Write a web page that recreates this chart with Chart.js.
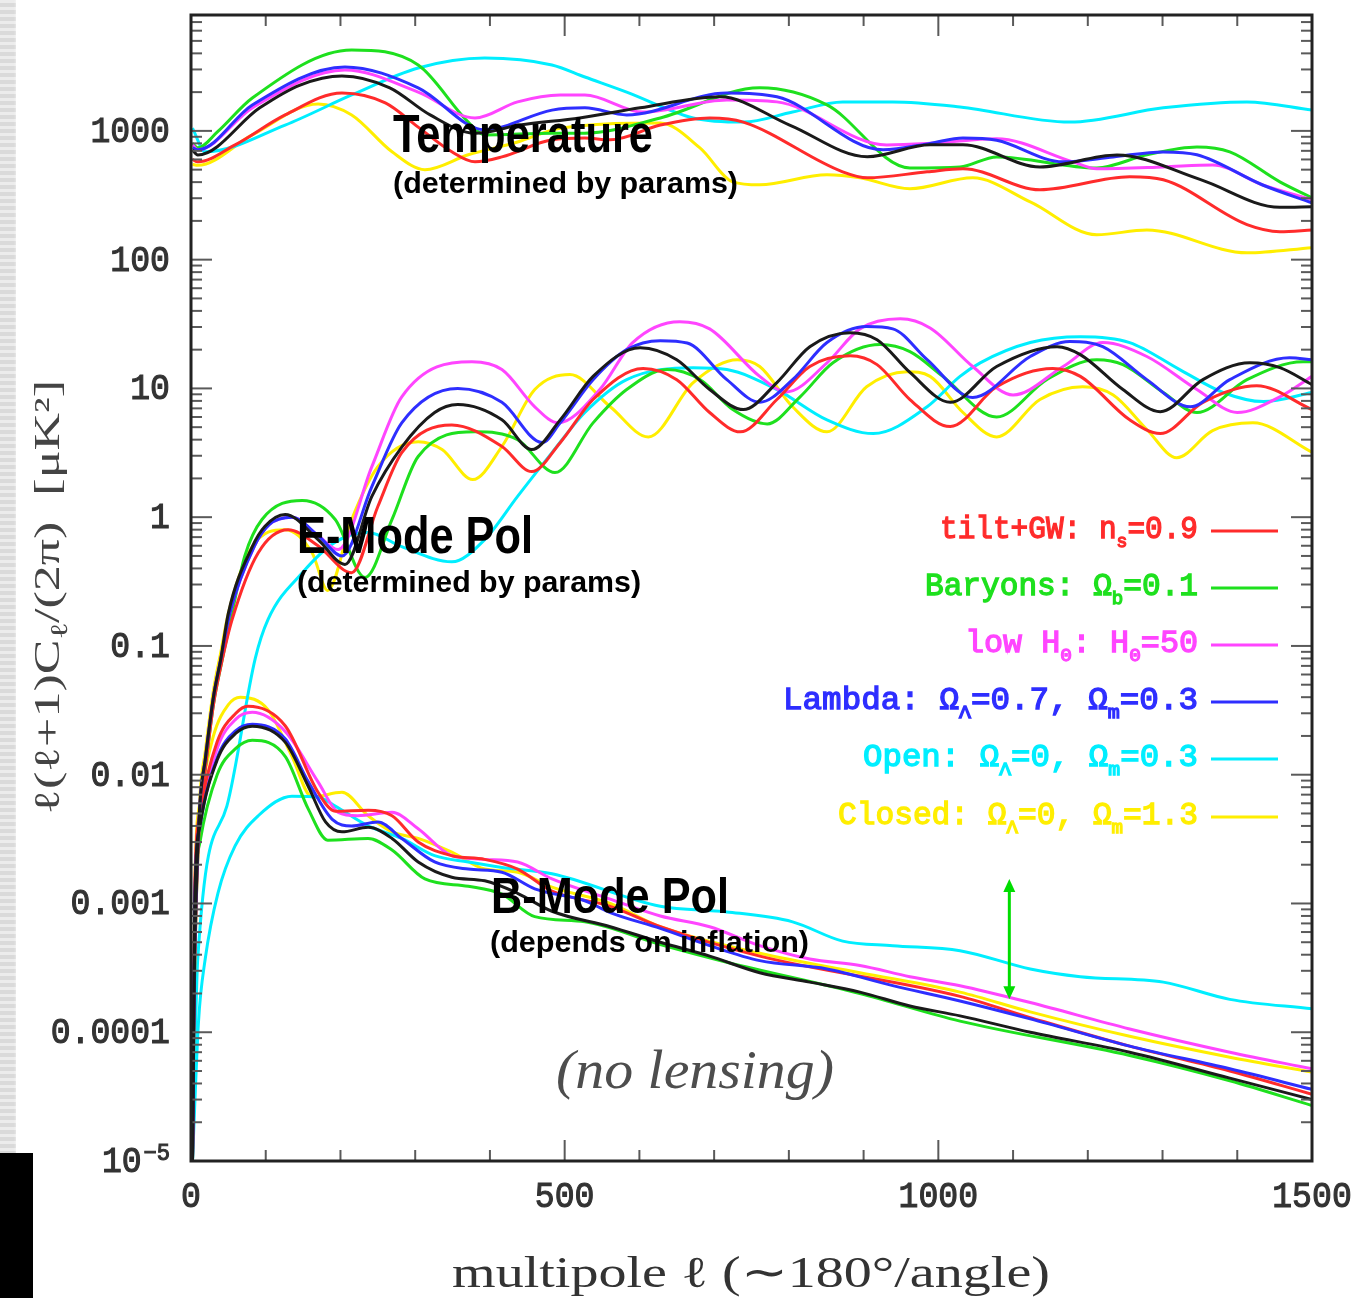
<!DOCTYPE html>
<html>
<head>
<meta charset="utf-8">
<title>CMB power spectra</title>
<script src="https://cdn.jsdelivr.net/npm/chart.js@4.4.1/dist/chart.umd.min.js"></script>
<style>
  html, body { margin: 0; padding: 0; background: #fff; }
  canvas { display: block; }
</style>
</head>
<body>
<canvas id="spectra" width="1370" height="1298"></canvas>
<script>
// [multipole l, l(l+1)C_l/2pi in uK^2]

// Temperature
const TT_BLACK = [[2,710],[9,650],[92,1510],[146,2270],[202,2670],[266,2160],[320,1330],[380,960],[440,1110],[520,1260],[601,1510],[708,1840],[801,1110],[905,630],[989,780],[1033,780],[1136,525],[1239,650],[1350,420],[1457,255],[1500,258]];
const TT_RED = [[2,600],[9,575],[59,778],[126,1330],[202,1970],[260,1650],[304,1070],[349,688],[380,575],[416,628],[483,852],[527,880],[561,852],[628,1110],[694,1260],[739,1170],[872,481],[905,432],[985,481],[1033,508],[1136,349],[1256,440],[1301,417],[1413,187],[1457,165],[1500,170]];
const TT_GREEN = [[2,800],[9,740],[36,990],[82,1800],[215,4250],[304,3250],[371,1170],[393,930],[483,960],[527,960],[628,1260],[761,2160],[851,1590],[962,516],[1029,525],[1078,628],[1212,516],[1279,652],[1346,750],[1390,687],[1457,402],[1500,302]];
const TT_MAGENTA = [[2,780],[9,713],[82,1510],[206,2970],[304,2000],[380,1260],[437,1680],[494,1900],[527,1900],[605,1400],[717,1740],[784,1680],[931,778],[989,800],[1078,868],[1180,575],[1212,508],[1301,525],[1367,544],[1434,380],[1500,292]];
const TT_BLUE = [[2,738],[9,713],[82,1590],[206,3140],[304,2160],[393,1020],[483,1450],[527,1510],[583,1330],[717,1970],[784,1840],[926,713],[989,800],[1033,880],[1078,845],[1167,575],[1234,628],[1301,687],[1346,652],[1434,380],[1500,276]];
const TT_CYAN = [[2,1050],[19,688],[126,1110],[215,1900],[304,3080],[393,3680],[483,3250],[527,2620],[583,2000],[672,1260],[739,1170],[805,1400],[872,1680],[939,1680],[1029,1535],[1176,1170],[1301,1510],[1413,1680],[1500,1450]];
const TT_YELLOW = [[2,550],[9,540],[82,930],[170,1620],[215,1330],[269,688],[313,500],[371,652],[437,820],[494,1050],[628,1150],[681,738],[725,402],[761,381],[851,456],[895,432],[962,355],[1046,432],[1123,281],[1212,156],[1279,170],[1413,113],[1500,124]];

// E-mode polarization
const EE_BLACK = [[2,1e-5],[4,2e-4],[7,0.0012],[12,0.006],[19,0.013],[30,0.04],[40,0.08],[50,0.18],[82,0.59],[99,0.85],[126,1.05],[170,0.67],[206,0.43],[242,1.45],[282,3.5],[326,6.5],[357,7.5],[416,5.7],[456,3.35],[494,5.7],[538,12.4],[601,20.7],[650,16.7],[694,9.8],[739,6.85],[784,11.1],[828,21.1],[882,27.1],[918,23.9],[962,13.3],[1016,7.8],[1078,14.8],[1159,21.1],[1190,18.3],[1247,9.8],[1297,6.6],[1354,11.7],[1417,15.8],[1457,14.5],[1500,10.7]];
const EE_RED = [[2,1e-5],[4,1.5e-4],[7,0.001],[12,0.005],[19,0.011],[30,0.035],[40,0.07],[55,0.16],[90,0.53],[130,0.8],[170,0.6],[215,0.37],[250,1.21],[282,3.17],[349,5.2],[416,3.54],[456,2.26],[494,3.79],[538,8.2],[605,14.3],[650,11.7],[694,6.5],[735,4.6],[784,8.2],[828,14.8],[882,17.9],[918,15.3],[962,8.2],[1016,5.05],[1078,10.3],[1153,14.3],[1190,12.4],[1256,5.7],[1297,4.46],[1354,7.8],[1426,10.5],[1500,6.85]];
const EE_GREEN = [[2,1e-5],[4,1.5e-4],[7,0.001],[12,0.005],[19,0.011],[30,0.035],[40,0.07],[55,0.18],[72,0.5],[95,0.96],[149,1.35],[193,0.96],[233,0.34],[269,0.96],[304,2.96],[380,4.6],[437,4.0],[487,2.22],[538,5.4],[583,9.8],[637,14.0],[681,11.7],[725,6.85],[771,5.3],[815,8.6],[859,15.8],[922,21.9],[962,19.3],[1006,12.4],[1078,6.0],[1145,11.7],[1212,16.7],[1247,15.3],[1301,9.3],[1346,6.5],[1413,11.7],[1488,16.1],[1500,16.1]];
const EE_MAGENTA = [[2,1e-5],[4,2e-4],[7,0.0012],[12,0.006],[19,0.013],[30,0.04],[40,0.08],[52,0.18],[85,0.6],[105,0.88],[135,1.0],[170,0.72],[197,0.56],[242,2.47],[282,8.6],[376,16.1],[416,14.0],[460,7.2],[491,5.4],[547,9.8],[591,22.7],[654,33.0],[694,29.0],[761,12.4],[797,9.4],[851,15.8],[895,29.0],[949,34.7],[989,29.5],[1046,14.8],[1100,8.9],[1167,14.8],[1220,22.7],[1279,17.7],[1346,9.8],[1400,6.5],[1457,8.6],[1500,12.4]];
const EE_BLUE = [[2,1e-5],[4,2e-4],[7,0.0012],[12,0.006],[19,0.013],[30,0.04],[40,0.08],[52,0.18],[85,0.6],[105,0.88],[135,1.0],[170,0.72],[202,0.5],[242,1.73],[282,5.4],[357,10.0],[416,7.8],[470,3.8],[494,5.4],[538,11.7],[583,20.0],[628,23.5],[664,22.5],[717,11.7],[761,7.8],[805,11.7],[851,22.7],[904,30.2],[939,29.0],[985,16.7],[1046,8.5],[1123,17.7],[1176,23.1],[1220,21.1],[1279,11.7],[1337,7.2],[1390,11.7],[1470,17.3],[1500,16.7]];
const EE_CYAN = [[2,1e-5],[9,3.7e-4],[48,0.0057],[86,0.08],[103,0.16],[149,0.37],[193,0.64],[237,0.76],[282,0.59],[349,0.45],[393,0.67],[437,1.45],[483,3.17],[527,6.5],[583,11.7],[672,14.5],[717,14.0],[784,9.8],[851,5.7],[913,4.46],[985,7.2],[1029,12.4],[1056,15.8],[1123,22.7],[1190,25.2],[1256,22.7],[1323,14.0],[1381,9.3],[1435,7.9],[1500,9.3]];
const EE_YELLOW = [[2,1e-5],[4,2.5e-4],[7,0.0015],[12,0.007],[19,0.015],[30,0.045],[40,0.09],[50,0.18],[82,0.59],[126,0.8],[162,0.53],[183,0.27],[215,0.96],[250,2.47],[304,3.86],[336,3.35],[377,1.96],[416,3.54],[460,9.8],[507,12.8],[561,7.2],[612,4.2],[672,11.1],[731,16.7],[761,14.8],[805,7.2],[851,4.6],[904,10.3],[958,13.5],[989,12.4],[1033,6.5],[1078,4.2],[1136,8.2],[1193,10.3],[1234,8.9],[1279,4.8],[1319,2.9],[1367,4.7],[1421,5.4],[1500,3.2]];

// B-mode polarization
const BB_BLACK = [[2,1e-5],[5,0.001],[12,0.004],[35,0.013],[60,0.021],[82,0.0238],[126,0.0179],[157,0.0081],[180,0.0043],[202,0.0036],[237,0.0039],[269,0.0032],[304,0.0021],[349,0.0016],[393,0.0015],[437,0.0012],[483,0.00087],[561,0.00066],[628,0.0005],[694,0.00039],[761,0.00029],[828,0.000245],[895,0.000205],[962,0.00016],[1029,0.000134],[1123,0.0001],[1256,7.0e-5],[1390,4.4e-5],[1500,3.0e-5]];
const BB_RED = [[2,1e-5],[5,0.0012],[12,0.005],[35,0.018],[60,0.03],[76,0.034],[126,0.024],[170,0.0073],[193,0.0052],[237,0.0053],[269,0.0048],[304,0.003],[349,0.00235],[393,0.0022],[437,0.00185],[483,0.00125],[561,0.00095],[628,0.00066],[761,0.00039],[1029,0.00019],[1123,0.00013],[1256,7.8e-5],[1390,5.0e-5],[1500,3.3e-5]];
const BB_GREEN = [[2,1e-5],[5,0.0008],[12,0.003],[35,0.01],[60,0.016],[82,0.0185],[126,0.0139],[157,0.0054],[183,0.0031],[237,0.0032],[269,0.0026],[313,0.00155],[371,0.00136],[416,0.00118],[460,0.00079],[527,0.00072],[628,0.00048],[717,0.00035],[895,0.0002],[1029,0.000122],[1256,6.6e-5],[1390,4.2e-5],[1500,2.7e-5]];
const BB_MAGENTA = [[2,1e-5],[5,0.0011],[12,0.0045],[35,0.016],[60,0.027],[82,0.0305],[126,0.0217],[170,0.0088],[197,0.0051],[223,0.0048],[269,0.0051],[304,0.0038],[349,0.00235],[393,0.0022],[437,0.0021],[483,0.00155],[561,0.00108],[628,0.0008],[694,0.00066],[761,0.00047],[828,0.00037],[895,0.00033],[962,0.00027],[1029,0.00023],[1123,0.00017],[1256,0.000106],[1390,7.0e-5],[1500,5.2e-5]];
const BB_BLUE = [[2,1e-5],[5,0.001],[12,0.004],[35,0.0135],[60,0.022],[82,0.0246],[126,0.019],[157,0.0088],[189,0.0045],[215,0.004],[250,0.0043],[282,0.0032],[326,0.0021],[371,0.00185],[416,0.00175],[460,0.0013],[527,0.00105],[561,0.00085],[628,0.00064],[694,0.00047],[761,0.00036],[851,0.00031],[939,0.00023],[1029,0.000175],[1123,0.000127],[1256,7.8e-5],[1390,5.2e-5],[1500,3.6e-5]];
const BB_CYAN = [[2,1e-5],[10,1.2e-4],[19,3.7e-4],[36,0.0012],[59,0.0028],[90,0.0048],[135,0.0068],[170,0.0067],[193,0.0057],[237,0.004],[282,0.0032],[326,0.00235],[371,0.0021],[416,0.0019],[483,0.0017],[628,0.00095],[717,0.00086],[805,0.00072],[872,0.00051],[939,0.00047],[1029,0.00043],[1123,0.00031],[1190,0.00027],[1301,0.000245],[1390,0.00018],[1500,0.000152]];
const BB_YELLOW = [[2,1e-5],[5,0.0013],[12,0.006],[30,0.02],[50,0.035],[66,0.04],[103,0.032],[135,0.0139],[162,0.0067],[202,0.0073],[237,0.0048],[269,0.0036],[304,0.0032],[349,0.0025],[393,0.00185],[437,0.00175],[483,0.00134],[561,0.001],[628,0.00066],[761,0.00041],[895,0.00029],[1029,0.000205],[1123,0.000144],[1256,9.3e-5],[1390,6.4e-5],[1500,4.9e-5]];

const X_TICK_VALUES = [0, 500, 1000, 1500];
const X_TICK_LABELS = ['0', '500', '1000', '1500'];
const Y_TICK_VALUES = [1000, 100, 10, 1, 0.1, 0.01, 0.001, 0.0001, 0.00001];
const Y_TICK_LABELS = ['1000', '100', '10', '1', '0.1', '0.01', '0.001', '0.0001', '10^−5'];

const LEGEND_MODELS = ['red', 'green', 'magenta', 'blue', 'cyan', 'yellow'];
const LEGEND_LABELS = [
  'tilt+GW: n_s=0.9',
  'Baryons: Ω_b=0.1',
  'low H_0: H_0=50',
  'Lambda: Ω_Λ=0.7, Ω_m=0.3',
  'Open: Ω_Λ=0, Ω_m=0.3',
  'Closed: Ω_Λ=0, Ω_m=1.3'
];

// arrow showing the open-model B-mode offset
const GAP_ARROW = { ell: 1095, low: 1.8e-4, high: 1.55e-3 };

const COLORS = {
  black: '#1a1a1a',
  red: '#ff2b2b',
  green: '#1ee01e',
  magenta: '#ff45ff',
  blue: '#2e2eff',
  cyan: '#00eeff',
  yellow: '#ffee00'
};

const curves = [
  ['black', TT_BLACK], ['black', EE_BLACK], ['black', BB_BLACK],
  ['blue', TT_BLUE], ['blue', EE_BLUE], ['blue', BB_BLUE],
  ['red', TT_RED], ['red', EE_RED], ['red', BB_RED],
  ['magenta', TT_MAGENTA], ['magenta', EE_MAGENTA], ['magenta', BB_MAGENTA],
  ['green', TT_GREEN], ['green', EE_GREEN], ['green', BB_GREEN],
  ['cyan', TT_CYAN], ['cyan', EE_CYAN], ['cyan', BB_CYAN],
  ['yellow', TT_YELLOW], ['yellow', EE_YELLOW], ['yellow', BB_YELLOW]
];

// split "a_b" into normal / subscript runs
function parseRuns(str) {
  const runs = [];
  let buf = '';
  for (let i = 0; i < str.length; i++) {
    if (str[i] === '_' && i + 1 < str.length) {
      if (buf) runs.push({ t: buf, sub: false });
      runs.push({ t: str[i + 1], sub: true });
      buf = '';
      i++;
    } else {
      buf += str[i];
    }
  }
  if (buf) runs.push({ t: buf, sub: false });
  return runs;
}

// draws text squeezed/stretched to a given width, left edge at x
function drawFitted(ctx, str, x, y, width, font, subFont, subDrop, color, stroke) {
  const runs = parseRuns(str);
  ctx.save();
  let total = 0;
  for (const r of runs) {
    ctx.font = r.sub ? subFont : font;
    r.w = ctx.measureText(r.t).width;
    total += r.w;
  }
  ctx.translate(x, y);
  ctx.scale(width / total, 1);
  ctx.fillStyle = color;
  ctx.strokeStyle = color;
  ctx.lineWidth = stroke || 0;
  ctx.textAlign = 'left';
  ctx.textBaseline = 'alphabetic';
  let cx = 0;
  for (const r of runs) {
    ctx.font = r.sub ? subFont : font;
    ctx.fillText(r.t, cx, r.sub ? subDrop : 0);
    if (stroke) ctx.strokeText(r.t, cx, r.sub ? subDrop : 0);
    cx += r.w;
  }
  ctx.restore();
}

const decor = {
  id: 'decor',
  beforeDraw(chart) {
    const { ctx, width, height } = chart;
    ctx.save();
    ctx.fillStyle = '#fff';
    ctx.fillRect(0, 0, width, height);
    ctx.fillStyle = '#dadada';
    ctx.fillRect(0, 0, 16, height);
    ctx.fillStyle = '#ececec';
    for (let yy = 0; yy < height; yy += 7) ctx.fillRect(0, yy, 16, 3);
    const g = ctx.createLinearGradient(14, 0, 20, 0);
    g.addColorStop(0, 'rgba(255,255,255,0)');
    g.addColorStop(1, '#fff');
    ctx.fillStyle = g;
    ctx.fillRect(14, 0, 6, height);
    ctx.fillStyle = '#000';
    ctx.fillRect(0, 1153, 33, height - 1153);
    ctx.restore();
  },
  afterDatasetsDraw(chart) {
    const { ctx, chartArea: a, scales: { x, y } } = chart;
    ctx.save();

    // inward ticks
    ctx.strokeStyle = '#5a5a5a';
    ctx.lineWidth = 2;
    const seg = (x0, y0, x1, y1) => { ctx.beginPath(); ctx.moveTo(x0, y0); ctx.lineTo(x1, y1); ctx.stroke(); };
    for (let e = -5; e <= 3; e++) {
      for (let m = 1; m <= 9; m++) {
        const v = m * Math.pow(10, e);
        if (v > y.max) break;
        const py = y.getPixelForValue(v);
        const len = m === 1 ? 21 : 11;
        seg(a.left, py, a.left + len, py);
        seg(a.right - len, py, a.right, py);
      }
    }
    for (let l = 100; l < 1500; l += 100) {
      const px = x.getPixelForValue(l);
      const len = l % 500 === 0 ? 21 : 11;
      seg(px, a.bottom, px, a.bottom - len);
      seg(px, a.top, px, a.top + len);
    }

    // frame
    ctx.strokeStyle = '#222';
    ctx.lineWidth = 3;
    ctx.strokeRect(a.left, a.top, a.right - a.left, a.bottom - a.top);

    // tick labels
    const tickFont = '36px "Liberation Mono"';
    ctx.fillStyle = '#333';
    ctx.strokeStyle = '#333';
    ctx.lineWidth = 1.1;
    ctx.textBaseline = 'alphabetic';
    Y_TICK_VALUES.forEach((v, i) => {
      const py = y.getPixelForValue(v);
      const [base, sup] = Y_TICK_LABELS[i].split('^');
      ctx.save();
      ctx.translate(170, py + 11);
      ctx.scale(0.92, 1);
      ctx.textAlign = 'right';
      let off = 0;
      if (sup) {
        ctx.font = '24px "Liberation Mono"';
        ctx.fillText(sup, 0, -12);
        ctx.strokeText(sup, 0, -12);
        off = ctx.measureText(sup).width + 2;
      }
      ctx.font = tickFont;
      ctx.fillText(base, -off, 0);
      ctx.strokeText(base, -off, 0);
      ctx.restore();
    });
    X_TICK_VALUES.forEach((v, i) => {
      ctx.save();
      ctx.translate(x.getPixelForValue(v), 1207);
      ctx.scale(0.92, 1);
      ctx.textAlign = 'center';
      ctx.font = tickFont;
      ctx.fillText(X_TICK_LABELS[i], 0, 0);
      ctx.strokeText(X_TICK_LABELS[i], 0, 0);
      ctx.restore();
    });

    // axis titles
    drawFitted(ctx, 'multipole ℓ (∼180°/angle)', 452, 1287, 598,
      '44px "Liberation Serif"', '30px "Liberation Serif"', 8, '#333');
    ctx.save();
    ctx.translate(46, 597);
    ctx.rotate(-Math.PI / 2);
    drawFitted(ctx, 'ℓ(ℓ+1)C_ℓ/(2π)  [μK²]', -217, 13, 434,
      '36px "Liberation Serif"', '24px "Liberation Serif"', 8, '#444');
    ctx.restore();

    // panel captions
    const bold = s => 'bold ' + s + 'px "Liberation Sans"';
    drawFitted(ctx, 'Temperature', 393, 152, 260, bold(54), bold(30), 0, '#000');
    drawFitted(ctx, '(determined by params)', 393, 193, 345, bold(30), bold(20), 0, '#000');
    drawFitted(ctx, 'E-Mode Pol', 297, 553, 236, bold(52), bold(30), 0, '#000');
    drawFitted(ctx, '(determined by params)', 297, 592, 344, bold(30), bold(20), 0, '#000');
    drawFitted(ctx, 'B-Mode Pol', 491, 913, 238, bold(50), bold(30), 0, '#000');
    drawFitted(ctx, '(depends on inflation)', 490, 952, 319, bold(30), bold(20), 0, '#000');
    drawFitted(ctx, '(no lensing)', 556, 1088, 278,
      'italic 54px "Liberation Serif"', '30px "Liberation Serif"', 0, '#4d4d4d');

    // legend
    const rowY = [531, 588, 645, 702, 759, 817];
    const rowW = [258, 273, 233, 415, 335, 360];
    LEGEND_LABELS.forEach((label, i) => {
      const col = COLORS[LEGEND_MODELS[i]];
      drawFitted(ctx, label, 1198 - rowW[i], rowY[i] + 7, rowW[i],
        '31px "Liberation Mono"', '19px "Liberation Mono"', 9, col, 1.3);
      ctx.strokeStyle = col;
      ctx.lineWidth = 3;
      seg(1211, rowY[i], 1278, rowY[i]);
    });

    // double-headed arrow
    const ax = x.getPixelForValue(GAP_ARROW.ell);
    const yTop = y.getPixelForValue(GAP_ARROW.high);
    const yBot = y.getPixelForValue(GAP_ARROW.low);
    ctx.strokeStyle = '#00dd00';
    ctx.fillStyle = '#00dd00';
    ctx.lineWidth = 3;
    seg(ax, yTop + 10, ax, yBot - 10);
    ctx.beginPath();
    ctx.moveTo(ax, yTop); ctx.lineTo(ax - 6, yTop + 13); ctx.lineTo(ax + 6, yTop + 13); ctx.closePath();
    ctx.fill();
    ctx.beginPath();
    ctx.moveTo(ax, yBot); ctx.lineTo(ax - 6, yBot - 13); ctx.lineTo(ax + 6, yBot - 13); ctx.closePath();
    ctx.fill();

    ctx.restore();
  }
};

new Chart(document.getElementById('spectra'), {
  type: 'line',
  data: {
    datasets: curves.map(([model, pts]) => ({
      data: pts.map(([l, v]) => ({ x: l, y: v })),
      borderColor: COLORS[model],
      borderWidth: 3,
      pointRadius: 0,
      cubicInterpolationMode: 'monotone',
      fill: false
    }))
  },
  options: {
    responsive: false,
    animation: false,
    devicePixelRatio: 1,
    events: [],
    layout: { padding: { left: 191, right: 58, top: 15, bottom: 137 } },
    scales: {
      x: { type: 'linear', min: 0, max: 1500, display: false },
      y: { type: 'logarithmic', min: 1e-5, max: Math.pow(10, 3.9), display: false }
    },
    plugins: { legend: { display: false }, tooltip: { enabled: false } }
  },
  plugins: [decor]
});
</script>
</body>
</html>
